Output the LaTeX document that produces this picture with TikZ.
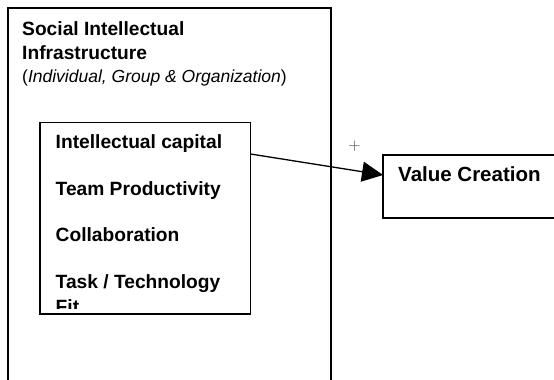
\documentclass[tikz,border=0pt]{standalone}
\usepackage{fontspec}
\setmainfont{Liberation Sans}
\newfontfamily\signfont{Latin Modern Roman}
\usetikzlibrary{arrows.meta,calc}
\begin{document}
\begin{tikzpicture}[x=1pt,y=-1pt,
  frame/.style={draw=black,line width=1.7pt,inner sep=0pt,outer sep=0pt,anchor=north west},
  itembox/.style={draw=black,line width=1.3pt,inner sep=0pt,outer sep=0pt,anchor=north west},
  heading/.style={font=\fontsize{19.2}{24}\selectfont\bfseries,inner sep=0pt,anchor=base west},
  subheading/.style={font=\fontsize{17.5}{21}\selectfont,inner sep=0pt,anchor=base west},
  sign/.style={font=\signfont\fontsize{17}{17}\selectfont,text=black!75,inner sep=0pt},
  link/.style={draw=black,line width=1.3pt,-{Triangle[length=21pt,width=20pt]}}
]
\useasboundingbox (0,0) rectangle (554,380);
\clip (0,0) rectangle (554,380);
\fill[white] (0,0) rectangle (554,380);

% outer frame: social intellectual infrastructure
\node[frame,minimum width=323pt,minimum height=373pt] (infra) at (8,8) {};
\node[heading] (title1) at (22,35) {Social Intellectual};
\node[heading] (title2) at (22,59.5) {Infrastructure};
\node[subheading] (levels) at (22,82) {(\textit{Individual, Group \& Organization})};

% inner box with the infrastructure components
\node[itembox,minimum width=210.5pt,minimum height=191.5pt] (parts) at (40,122.5) {};
\node[heading] (capital) at (55.5,148) {Intellectual capital};
\node[heading] (productivity) at (55.5,195) {Team Productivity};
\node[heading] (collab) at (55.5,241.5) {Collaboration};
\node[heading] (fit1) at (55.5,288) {Task / Technology};
\begin{scope}
  \clip (40,122.5) rectangle (250.5,308);
  \node[heading] (fit2) at (55.5,313.7) {Fit};
\end{scope}

% outcome box
\node[itembox,minimum width=220pt,minimum height=63pt] (value) at (383,155) {};
\node[heading,font=\fontsize{20.5}{24}\selectfont\bfseries] (valuetext) at (398,181.7) {Value Creation};

% positive link from the components to value creation
\coordinate (src) at ($(parts.north east)+(0,31.5)$);
\coordinate (tgt) at ($(value.north west)+(0,20)$);
\draw[link] (src) -- (tgt);
\node[sign] (plus) at (354.5,146.2) {+};
\end{tikzpicture}
\end{document}
